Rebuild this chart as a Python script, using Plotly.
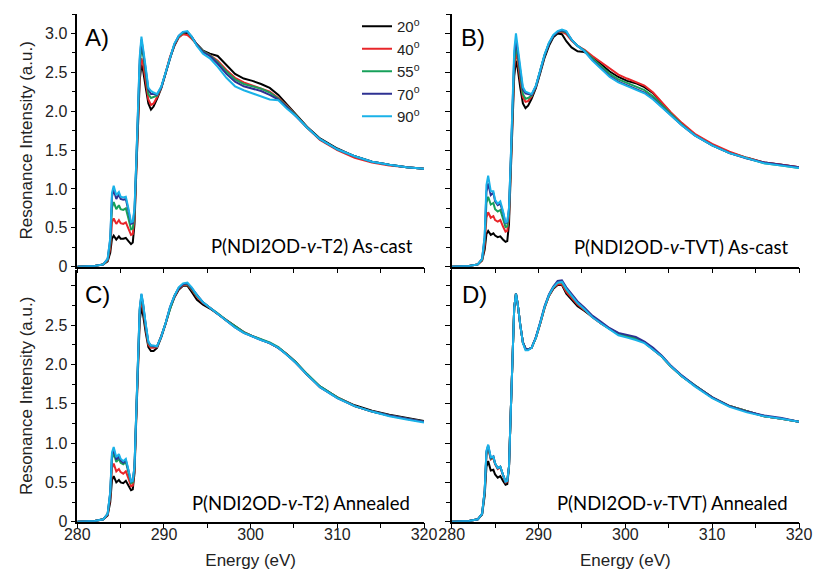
import plotly.graph_objects as go

# ---------------- data ----------------
energy = [280, 282, 283, 283.5, 283.8, 284.0, 284.2, 284.5, 284.8, 285.0,
          285.3, 285.6, 285.9, 286.2, 286.4, 286.6, 286.8, 287.0, 287.2, 287.4,
          287.6, 287.9, 288.2, 288.5, 288.8, 289.2, 289.7, 290.2, 290.7, 291.2,
          291.7, 292.2, 292.7, 293.2, 293.8, 294.5, 295.3, 296.2, 297.2, 298.2,
          299.2, 300.2, 301.2, 302.2, 303.2, 304.2, 305.2, 306.5, 308, 310,
          312, 314, 316, 318, 320]

angles = ["20", "40", "55", "70", "90"]
colors = ["#000000", "#e8262a", "#17a05a", "#2e3192", "#1ab2e8"]

# Panel A: P(NDI2OD-v-T2) As-cast
a_20 = [0.00, 0.01, 0.03, 0.07, 0.18, 0.36, 0.40, 0.35, 0.39, 0.36,
        0.36, 0.37, 0.33, 0.29, 0.31, 0.55, 1.20, 1.90, 2.40, 2.60,
        2.52, 2.30, 2.10, 2.02, 2.06, 2.16, 2.30, 2.49, 2.69, 2.84,
        2.95, 3.00, 3.01, 2.95, 2.86, 2.78, 2.74, 2.71, 2.59, 2.48,
        2.42, 2.39, 2.35, 2.30, 2.21, 2.09, 1.96, 1.80, 1.65, 1.52,
        1.42, 1.35, 1.31, 1.28, 1.26]
a_40 = [0.00, 0.01, 0.03, 0.08, 0.24, 0.57, 0.62, 0.55, 0.60, 0.56,
        0.55, 0.57, 0.49, 0.41, 0.42, 0.62, 1.25, 1.95, 2.48, 2.68,
        2.60, 2.38, 2.15, 2.08, 2.10, 2.18, 2.31, 2.50, 2.70, 2.85,
        2.95, 2.99, 2.98, 2.93, 2.86, 2.77, 2.72, 2.65, 2.53, 2.43,
        2.37, 2.33, 2.30, 2.25, 2.17, 2.07, 1.95, 1.79, 1.63, 1.50,
        1.40, 1.34, 1.30, 1.28, 1.26]
a_55 = [0.00, 0.01, 0.03, 0.09, 0.30, 0.76, 0.83, 0.74, 0.79, 0.74,
        0.73, 0.75, 0.62, 0.48, 0.49, 0.68, 1.30, 2.00, 2.58, 2.83,
        2.72, 2.48, 2.22, 2.17, 2.18, 2.20, 2.31, 2.50, 2.70, 2.86,
        2.96, 3.01, 3.02, 2.95, 2.85, 2.77, 2.72, 2.63, 2.51, 2.41,
        2.35, 2.32, 2.29, 2.24, 2.16, 2.06, 1.95, 1.79, 1.64, 1.51,
        1.42, 1.35, 1.31, 1.28, 1.26]
a_70 = [0.00, 0.01, 0.03, 0.10, 0.35, 0.90, 0.99, 0.87, 0.93, 0.87,
        0.86, 0.87, 0.72, 0.55, 0.56, 0.72, 1.33, 2.03, 2.65, 2.92,
        2.78, 2.53, 2.28, 2.22, 2.22, 2.21, 2.31, 2.50, 2.70, 2.86,
        2.97, 3.02, 3.02, 2.96, 2.85, 2.76, 2.71, 2.61, 2.48, 2.38,
        2.32, 2.29, 2.26, 2.21, 2.15, 2.05, 1.94, 1.79, 1.64, 1.51,
        1.42, 1.35, 1.31, 1.28, 1.26]
a_90 = [0.00, 0.01, 0.03, 0.10, 0.37, 0.95, 1.04, 0.92, 0.96, 0.90,
        0.89, 0.90, 0.75, 0.57, 0.58, 0.75, 1.35, 2.05, 2.70, 2.96,
        2.82, 2.56, 2.30, 2.26, 2.24, 2.22, 2.32, 2.51, 2.71, 2.87,
        2.97, 3.02, 3.03, 2.96, 2.84, 2.74, 2.68, 2.57, 2.43, 2.32,
        2.27, 2.23, 2.19, 2.15, 2.14, 2.03, 1.94, 1.79, 1.64, 1.51,
        1.42, 1.35, 1.31, 1.28, 1.26]

# Panel B: P(NDI2OD-v-TVT) As-cast
b_20 = [0.00, 0.01, 0.03, 0.08, 0.22, 0.42, 0.46, 0.41, 0.43, 0.40,
        0.38, 0.39, 0.35, 0.32, 0.33, 0.55, 1.20, 1.90, 2.45, 2.65,
        2.55, 2.30, 2.10, 2.04, 2.07, 2.16, 2.30, 2.49, 2.69, 2.84,
        2.95, 3.00, 2.99, 2.90, 2.82, 2.77, 2.76, 2.70, 2.61, 2.51,
        2.44, 2.39, 2.36, 2.31, 2.23, 2.11, 1.98, 1.84, 1.70, 1.57,
        1.47, 1.40, 1.34, 1.31, 1.28]
b_40 = [0.00, 0.01, 0.03, 0.08, 0.28, 0.63, 0.70, 0.63, 0.65, 0.60,
        0.58, 0.60, 0.52, 0.45, 0.46, 0.65, 1.28, 1.98, 2.55, 2.76,
        2.65, 2.40, 2.18, 2.12, 2.13, 2.19, 2.32, 2.52, 2.72, 2.87,
        2.97, 3.02, 3.02, 2.99, 2.91, 2.84, 2.79, 2.71, 2.63, 2.54,
        2.47, 2.42, 2.38, 2.33, 2.24, 2.12, 1.99, 1.85, 1.71, 1.58,
        1.48, 1.40, 1.34, 1.31, 1.28]
b_55 = [0.00, 0.01, 0.03, 0.09, 0.34, 0.82, 0.90, 0.80, 0.82, 0.74,
        0.71, 0.73, 0.62, 0.51, 0.52, 0.70, 1.32, 2.02, 2.62, 2.83,
        2.72, 2.46, 2.22, 2.16, 2.17, 2.20, 2.32, 2.52, 2.72, 2.87,
        2.97, 3.02, 3.03, 3.01, 2.92, 2.84, 2.78, 2.68, 2.58, 2.48,
        2.41, 2.36, 2.32, 2.27, 2.19, 2.08, 1.96, 1.83, 1.69, 1.56,
        1.46, 1.39, 1.33, 1.30, 1.27]
b_70 = [0.00, 0.01, 0.03, 0.10, 0.38, 0.96, 1.07, 0.92, 0.95, 0.84,
        0.79, 0.81, 0.70, 0.56, 0.57, 0.74, 1.36, 2.08, 2.70, 2.91,
        2.78, 2.52, 2.28, 2.23, 2.22, 2.21, 2.32, 2.52, 2.72, 2.87,
        2.97, 3.02, 3.04, 3.02, 2.92, 2.84, 2.77, 2.66, 2.55, 2.45,
        2.38, 2.33, 2.29, 2.24, 2.16, 2.06, 1.95, 1.82, 1.69, 1.56,
        1.46, 1.39, 1.34, 1.31, 1.28]
b_90 = [0.00, 0.01, 0.03, 0.10, 0.40, 1.05, 1.17, 0.97, 0.97, 0.86,
        0.81, 0.84, 0.72, 0.57, 0.58, 0.76, 1.38, 2.12, 2.78, 3.00,
        2.84, 2.56, 2.31, 2.25, 2.24, 2.22, 2.33, 2.53, 2.73, 2.88,
        2.98, 3.03, 3.05, 3.03, 2.92, 2.84, 2.77, 2.65, 2.54, 2.44,
        2.37, 2.32, 2.28, 2.23, 2.15, 2.05, 1.94, 1.82, 1.69, 1.56,
        1.46, 1.39, 1.33, 1.30, 1.27]

# Panel C: P(NDI2OD-v-T2) Annealed
c_20 = [0.00, 0.01, 0.03, 0.08, 0.25, 0.53, 0.58, 0.50, 0.53, 0.50,
        0.49, 0.52, 0.46, 0.40, 0.41, 0.62, 1.30, 2.05, 2.55, 2.73,
        2.62, 2.40, 2.22, 2.17, 2.17, 2.21, 2.35, 2.52, 2.71, 2.85,
        2.95, 3.00, 3.00, 2.92, 2.82, 2.76, 2.71, 2.64, 2.56, 2.48,
        2.41, 2.36, 2.32, 2.27, 2.21, 2.13, 2.03, 1.87, 1.72, 1.58,
        1.48, 1.41, 1.36, 1.32, 1.28]
c_40 = [0.00, 0.01, 0.03, 0.09, 0.31, 0.68, 0.74, 0.64, 0.67, 0.63,
        0.61, 0.64, 0.55, 0.45, 0.46, 0.66, 1.34, 2.10, 2.63, 2.82,
        2.70, 2.45, 2.25, 2.21, 2.21, 2.22, 2.36, 2.52, 2.72, 2.86,
        2.96, 3.01, 3.01, 2.95, 2.86, 2.78, 2.72, 2.64, 2.56, 2.48,
        2.41, 2.36, 2.32, 2.27, 2.21, 2.13, 2.02, 1.87, 1.71, 1.58,
        1.47, 1.40, 1.35, 1.31, 1.27]
c_55 = [0.00, 0.01, 0.03, 0.10, 0.35, 0.80, 0.87, 0.76, 0.80, 0.75,
        0.73, 0.76, 0.63, 0.49, 0.50, 0.69, 1.37, 2.13, 2.68, 2.87,
        2.74, 2.48, 2.27, 2.23, 2.23, 2.23, 2.36, 2.53, 2.73, 2.87,
        2.97, 3.02, 3.02, 2.96, 2.87, 2.79, 2.72, 2.65, 2.56, 2.48,
        2.41, 2.36, 2.32, 2.28, 2.22, 2.13, 2.03, 1.88, 1.72, 1.58,
        1.47, 1.40, 1.35, 1.31, 1.27]
c_70 = [0.00, 0.01, 0.03, 0.10, 0.37, 0.85, 0.92, 0.79, 0.83, 0.78,
        0.75, 0.78, 0.65, 0.51, 0.52, 0.70, 1.38, 2.14, 2.70, 2.89,
        2.76, 2.50, 2.28, 2.24, 2.23, 2.23, 2.36, 2.53, 2.73, 2.87,
        2.97, 3.02, 3.03, 2.97, 2.88, 2.79, 2.72, 2.64, 2.55, 2.47,
        2.40, 2.35, 2.31, 2.27, 2.21, 2.12, 2.02, 1.87, 1.71, 1.57,
        1.47, 1.40, 1.35, 1.31, 1.27]
c_90 = [0.00, 0.01, 0.03, 0.10, 0.38, 0.88, 0.95, 0.82, 0.86, 0.80,
        0.77, 0.80, 0.66, 0.51, 0.52, 0.71, 1.39, 2.15, 2.72, 2.90,
        2.77, 2.51, 2.29, 2.24, 2.24, 2.23, 2.36, 2.53, 2.73, 2.87,
        2.98, 3.03, 3.04, 2.98, 2.88, 2.79, 2.72, 2.64, 2.55, 2.47,
        2.40, 2.35, 2.31, 2.27, 2.21, 2.12, 2.02, 1.87, 1.71, 1.57,
        1.47, 1.40, 1.34, 1.30, 1.26]

# Panel D: P(NDI2OD-v-TVT) Annealed
d_20 = [0.00, 0.01, 0.03, 0.09, 0.33, 0.70, 0.77, 0.65, 0.66, 0.60,
        0.56, 0.58, 0.52, 0.47, 0.48, 0.68, 1.38, 2.15, 2.72, 2.90,
        2.77, 2.50, 2.28, 2.20, 2.19, 2.21, 2.34, 2.52, 2.72, 2.87,
        2.96, 3.01, 3.01, 2.90, 2.82, 2.74, 2.68, 2.60, 2.52, 2.45,
        2.39, 2.36, 2.33, 2.28, 2.19, 2.10, 1.98, 1.85, 1.73, 1.58,
        1.47, 1.40, 1.34, 1.31, 1.27]
d_40 = [0.00, 0.01, 0.03, 0.10, 0.38, 0.85, 0.93, 0.79, 0.81, 0.73,
        0.67, 0.69, 0.59, 0.50, 0.51, 0.70, 1.39, 2.16, 2.72, 2.90,
        2.77, 2.50, 2.28, 2.20, 2.19, 2.21, 2.34, 2.52, 2.72, 2.87,
        2.97, 3.02, 3.02, 2.92, 2.84, 2.76, 2.69, 2.60, 2.52, 2.45,
        2.39, 2.36, 2.33, 2.28, 2.19, 2.10, 1.98, 1.85, 1.73, 1.58,
        1.47, 1.40, 1.34, 1.31, 1.27]
d_55 = [0.00, 0.01, 0.03, 0.10, 0.39, 0.87, 0.95, 0.80, 0.82, 0.74,
        0.68, 0.70, 0.60, 0.51, 0.52, 0.70, 1.39, 2.16, 2.72, 2.90,
        2.77, 2.50, 2.28, 2.20, 2.19, 2.21, 2.34, 2.53, 2.73, 2.88,
        2.98, 3.04, 3.04, 2.95, 2.87, 2.78, 2.70, 2.61, 2.53, 2.45,
        2.39, 2.36, 2.33, 2.28, 2.20, 2.10, 1.98, 1.85, 1.73, 1.58,
        1.47, 1.40, 1.34, 1.31, 1.27]
d_70 = [0.00, 0.01, 0.03, 0.10, 0.40, 0.89, 0.97, 0.81, 0.83, 0.74,
        0.68, 0.70, 0.60, 0.51, 0.52, 0.70, 1.39, 2.16, 2.72, 2.90,
        2.77, 2.50, 2.28, 2.20, 2.19, 2.21, 2.35, 2.54, 2.74, 2.89,
        2.99, 3.06, 3.07, 2.98, 2.90, 2.80, 2.72, 2.62, 2.54, 2.46,
        2.40, 2.37, 2.35, 2.29, 2.21, 2.11, 1.99, 1.86, 1.73, 1.58,
        1.47, 1.40, 1.35, 1.32, 1.27]
d_90 = [0.00, 0.01, 0.03, 0.10, 0.40, 0.90, 0.98, 0.82, 0.83, 0.74,
        0.68, 0.70, 0.60, 0.51, 0.52, 0.70, 1.39, 2.16, 2.72, 2.90,
        2.77, 2.50, 2.27, 2.18, 2.18, 2.21, 2.34, 2.53, 2.73, 2.88,
        2.98, 3.04, 3.05, 2.96, 2.88, 2.78, 2.70, 2.60, 2.52, 2.44,
        2.37, 2.34, 2.31, 2.27, 2.19, 2.10, 1.98, 1.85, 1.72, 1.57,
        1.46, 1.39, 1.34, 1.31, 1.27]

panel_series = {
    "A": [a_20, a_40, a_55, a_70, a_90],
    "B": [b_20, b_40, b_55, b_70, b_90],
    "C": [c_20, c_40, c_55, c_70, c_90],
    "D": [d_20, d_40, d_55, d_70, d_90],
}
panel_titles = {
    "A": "P(NDI2OD-<i>v</i>-T2) As-cast",
    "B": "P(NDI2OD-<i>v</i>-TVT) As-cast",
    "C": "P(NDI2OD-<i>v</i>-T2) Annealed",
    "D": "P(NDI2OD-<i>v</i>-TVT) Annealed",
}
y_major = [0, 0.5, 1.0, 1.5, 2.0, 2.5, 3.0]
y_labels_top = ["0", "0.5", "1.0", "1.5", "2.0", "2.5", "3.0"]
y_labels_bottom = ["0", "0.5", "1.0", "1.5", "2.0", "2.5", ""]
x_major = [280, 290, 300, 310, 320]

for arr in sum(panel_series.values(), []):
    assert len(arr) == len(energy)

# ---------------- figure ----------------
W, H = 816, 571
FONT = "Liberation Sans, Arial, sans-serif"
LABFONT = "Lato, Open Sans, sans-serif"


def fx(px):
    return px / W


def fy(py):
    return 1 - py / H


xdom_left = [fx(77.3), fx(424)]
xdom_right = [fx(451.7), fx(799)]
ydom_top = [fy(266.7), fy(14)]
ydom_bot = [fy(521.7), fy(270)]

axes = {
    "A": ("x", "y", xdom_left, ydom_top, 3.25),
    "B": ("x2", "y2", xdom_right, ydom_top, 3.25),
    "C": ("x3", "y3", xdom_left, ydom_bot, 3.2),
    "D": ("x4", "y4", xdom_right, ydom_bot, 3.2),
}

fig = go.Figure()
for p, series in panel_series.items():
    xa, ya = axes[p][0], axes[p][1]
    for ang, col, vals in zip(angles, colors, series):
        fig.add_trace(go.Scatter(
            x=energy, y=vals, mode="lines",
            line=dict(color=col, width=2),
            name=f"{ang}<sup>o</sup>",
            showlegend=(p == "A"),
            xaxis=xa, yaxis=ya,
        ))

common_axis = dict(
    showline=True, linecolor="black", linewidth=1.5,
    showgrid=False, zeroline=False, mirror=False,
    ticks="outside", tickcolor="black", tickwidth=1.2,
    tickfont=dict(family=FONT, size=16, color="#222"),
    automargin=False,
)

layout = dict(
    width=W, height=H,
    margin=dict(l=0, r=0, t=0, b=0),
    paper_bgcolor="white", plot_bgcolor="white",
    showlegend=True,
    hovermode=False,
    legend=dict(
        x=fx(357), y=fy(10), xanchor="left", yanchor="top",
        font=dict(family=FONT, size=15, color="#222"),
        bgcolor="rgba(0,0,0,0)", borderwidth=0,
    ),
)

for p, (xa, ya, xd, yd, ymax) in axes.items():
    xkey = "xaxis" + xa[1:]
    ykey = "yaxis" + ya[1:]
    bottom = p in ("C", "D")
    left = p in ("A", "C")
    xax = dict(common_axis)
    xax.update(domain=xd, anchor=ya, range=[280, 320], ticklen=5,
               tickvals=x_major, showticklabels=bottom,
               ticklabelstandoff=-8,
               minor=dict(dtick=5, tick0=280, ticks="outside", ticklen=5,
                          tickwidth=1.2, tickcolor="black"))
    if bottom:
        xax["title"] = dict(text="Energy (eV)", standoff=12,
                            font=dict(family=FONT, size=17, color="#222"))
    yax = dict(common_axis)
    yax.update(domain=yd, anchor=xa, range=[0, ymax], ticklen=5,
               tickvals=y_major,
               ticktext=(y_labels_top if p in ("A", "B") else y_labels_bottom),
               showticklabels=left,
               minor=dict(dtick=0.25, tick0=0, ticks="outside", ticklen=4,
                          tickwidth=1.2, tickcolor="black"))
    if left:
        yax["title"] = dict(text="Resonance Intensity (a.u.)", standoff=8,
                            font=dict(family=FONT, size=17, color="#222"))
    layout[xkey] = xax
    layout[ykey] = yax

fig.update_layout(**layout)

# panel letters
letter_pos = {"A": (97, 37), "B": (473, 37), "C": (97, 294), "D": (474, 294)}
for p, (px, py) in letter_pos.items():
    fig.add_annotation(text=p + ")", x=fx(px), y=fy(py), xref="paper", yref="paper",
                       showarrow=False, xanchor="center", yanchor="middle",
                       font=dict(family=FONT, size=24, color="black"))

# sample labels
label_pos = {"A": (415, 246), "B": (790, 247), "C": (412, 503), "D": (790, 503)}
for p, (px, py) in label_pos.items():
    fig.add_annotation(text=panel_titles[p], x=fx(px), y=fy(py),
                       xref="paper", yref="paper", showarrow=False,
                       xanchor="right", yanchor="middle",
                       font=dict(family=LABFONT, size=18.5, color="black"))

# remove the browser's default page margin so the figure fills the window
page_css = ("document.body.style.margin='0';"
            "document.body.style.padding='0';"
            "document.body.style.overflow='hidden';"
            "document.documentElement.style.overflow='hidden';")
fig.write_html("out.html", post_script=page_css,
               config={"displayModeBar": False, "staticPlot": False})
